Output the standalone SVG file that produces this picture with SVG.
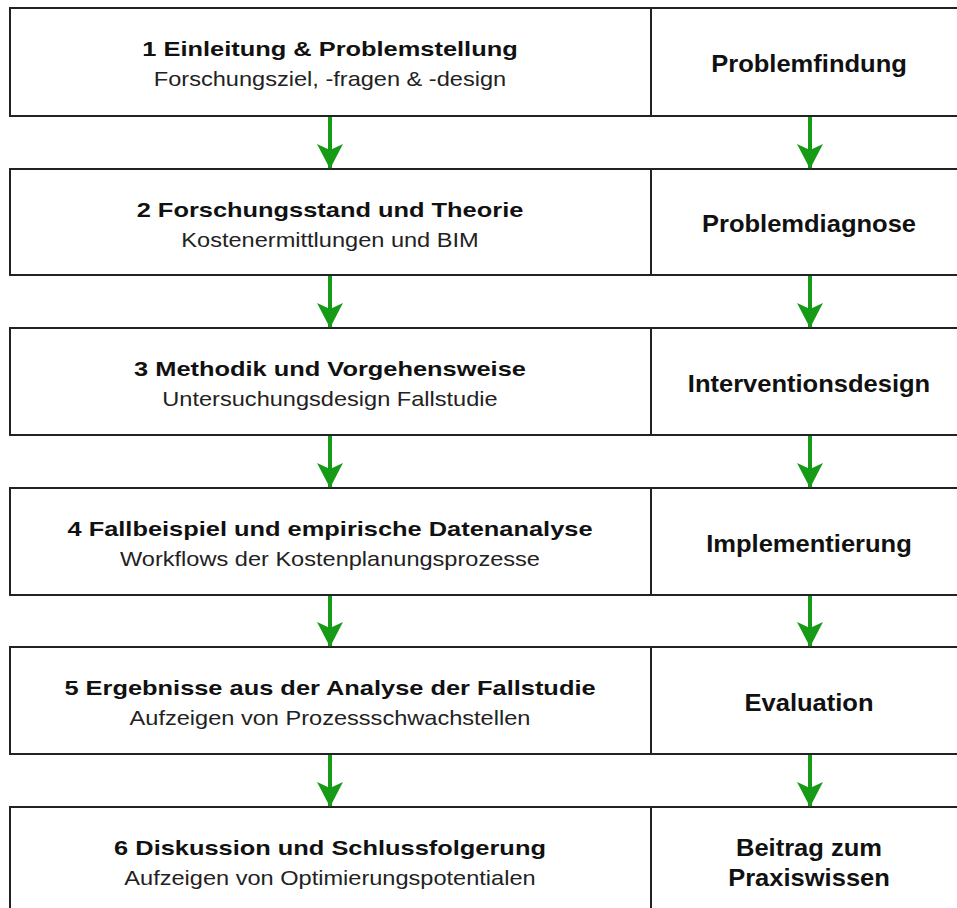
<svg xmlns="http://www.w3.org/2000/svg" width="957" height="908" viewBox="0 0 957 908">
  <style>
    .box { fill: #ffffff; stroke: #222222; stroke-width: 2; }
    .div { stroke: #222222; stroke-width: 2; }
    .title { font-family: "Liberation Sans", Arial, sans-serif; font-weight: bold; font-size: 21px; fill: #111111; text-anchor: middle; }
    .sub { font-family: "Liberation Sans", Arial, sans-serif; font-size: 20.5px; fill: #222222; text-anchor: middle; }
    .phase { font-family: "Liberation Sans", Arial, sans-serif; font-weight: bold; font-size: 23px; fill: #111111; text-anchor: middle; }
    .arrow { stroke: #169b16; stroke-width: 4; fill: none; marker-end: url(#head); }
  </style>
  <defs>
    <!-- arrowhead drawn along +x so orient="auto" points it down the line -->
    <marker id="head" viewBox="0 0 25 26" refX="24" refY="13" markerWidth="25" markerHeight="26" markerUnits="userSpaceOnUse" orient="auto">
      <path d="M0,0 L6,13 L0,26 L25,13 Z" fill="#169b16"/>
    </marker>
  </defs>
  <rect width="957" height="908" fill="#ffffff"/>

  <!-- stage rows: left = chapter (title + subtitle), right = phase -->
  <g id="row1">
    <rect class="box" x="10" y="8" width="960" height="108"/>
    <line class="div" x1="651" y1="8" x2="651" y2="116"/>
    <g transform="translate(330 0) scale(1.21 1)"><text class="title" x="0" y="56">1 Einleitung &amp; Problemstellung</text></g>
    <g transform="translate(330 0) scale(1.15 1)"><text class="sub" x="0" y="86">Forschungsziel, -fragen &amp; -design</text></g>
    <g transform="translate(809 0) scale(1.11 1)"><text class="phase" x="0" y="72">Problemfindung</text></g>
  </g>
  <g id="row2">
    <rect class="box" x="10" y="169" width="960" height="106"/>
    <line class="div" x1="651" y1="169" x2="651" y2="275"/>
    <g transform="translate(330 0) scale(1.21 1)"><text class="title" x="0" y="217">2 Forschungsstand und Theorie</text></g>
    <g transform="translate(330 0) scale(1.15 1)"><text class="sub" x="0" y="247">Kostenermittlungen und BIM</text></g>
    <g transform="translate(809 0) scale(1.11 1)"><text class="phase" x="0" y="232">Problemdiagnose</text></g>
  </g>
  <g id="row3">
    <rect class="box" x="10" y="328" width="960" height="107"/>
    <line class="div" x1="651" y1="328" x2="651" y2="435"/>
    <g transform="translate(330 0) scale(1.21 1)"><text class="title" x="0" y="376">3 Methodik und Vorgehensweise</text></g>
    <g transform="translate(330 0) scale(1.15 1)"><text class="sub" x="0" y="406">Untersuchungsdesign Fallstudie</text></g>
    <g transform="translate(809 0) scale(1.11 1)"><text class="phase" x="0" y="392">Interventionsdesign</text></g>
  </g>
  <g id="row4">
    <rect class="box" x="10" y="488" width="960" height="107"/>
    <line class="div" x1="651" y1="488" x2="651" y2="595"/>
    <g transform="translate(330 0) scale(1.21 1)"><text class="title" x="0" y="536">4 Fallbeispiel und empirische Datenanalyse</text></g>
    <g transform="translate(330 0) scale(1.15 1)"><text class="sub" x="0" y="566">Workflows der Kostenplanungsprozesse</text></g>
    <g transform="translate(809 0) scale(1.11 1)"><text class="phase" x="0" y="552">Implementierung</text></g>
  </g>
  <g id="row5">
    <rect class="box" x="10" y="647" width="960" height="107"/>
    <line class="div" x1="651" y1="647" x2="651" y2="754"/>
    <g transform="translate(330 0) scale(1.21 1)"><text class="title" x="0" y="695">5 Ergebnisse aus der Analyse der Fallstudie</text></g>
    <g transform="translate(330 0) scale(1.15 1)"><text class="sub" x="0" y="725">Aufzeigen von Prozessschwachstellen</text></g>
    <g transform="translate(809 0) scale(1.11 1)"><text class="phase" x="0" y="711">Evaluation</text></g>
  </g>
  <g id="row6">
    <rect class="box" x="10" y="807" width="960" height="120"/>
    <line class="div" x1="651" y1="807" x2="651" y2="908"/>
    <g transform="translate(330 0) scale(1.21 1)"><text class="title" x="0" y="855">6 Diskussion und Schlussfolgerung</text></g>
    <g transform="translate(330 0) scale(1.15 1)"><text class="sub" x="0" y="885">Aufzeigen von Optimierungspotentialen</text></g>
    <g transform="translate(809 0) scale(1.11 1)">
      <text class="phase" x="0" y="856">Beitrag zum</text>
      <text class="phase" x="0" y="886">Praxiswissen</text>
    </g>
  </g>

  <g id="connectors">
    <line class="arrow" x1="330" y1="117" x2="330" y2="168"/>
    <line class="arrow" x1="810" y1="117" x2="810" y2="168"/>
    <line class="arrow" x1="330" y1="276" x2="330" y2="327"/>
    <line class="arrow" x1="810" y1="276" x2="810" y2="327"/>
    <line class="arrow" x1="330" y1="436" x2="330" y2="487"/>
    <line class="arrow" x1="810" y1="436" x2="810" y2="487"/>
    <line class="arrow" x1="330" y1="596" x2="330" y2="646"/>
    <line class="arrow" x1="810" y1="596" x2="810" y2="646"/>
    <line class="arrow" x1="330" y1="755" x2="330" y2="806"/>
    <line class="arrow" x1="810" y1="755" x2="810" y2="806"/>
  </g>
</svg>
